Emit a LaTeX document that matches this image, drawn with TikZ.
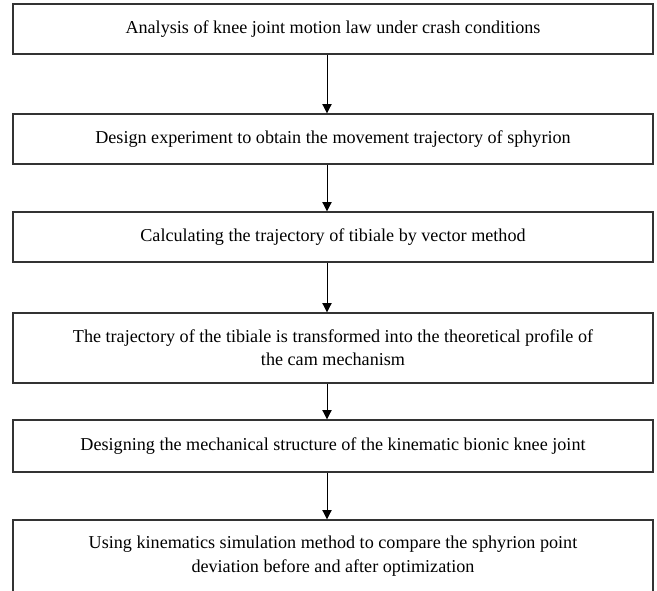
\documentclass[tikz,border=0pt]{standalone}
\usepackage{fontspec}
\setmainfont{Liberation Serif}
\usetikzlibrary{arrows.meta}

\begin{document}
\begin{tikzpicture}[x=0.75pt, y=-0.75pt,
        stagebox/.style={draw=black!80, line width=1pt, minimum width=480pt,
            minimum height=#1, inner sep=0pt, align=center,
            font=\fontsize{13.6}{17.5}\selectfont},
        flowarrow/.style={-{Triangle[width=7pt, length=7pt]}, line width=0.6pt}]

        % ---------------------------------------------------
        % 0. Page frame (the last box runs off the bottom)
        % ---------------------------------------------------
        \useasboundingbox (0, 0) rectangle (657, 590);
        \clip (0, 0) rectangle (657, 590);

        % ---------------------------------------------------
        % 1. Stages
        % ---------------------------------------------------
        \node[stagebox=37.5pt] (law) at (333, 29)
            {Analysis of knee joint motion law under crash conditions};
        \node[stagebox=37.5pt] (exper) at (333, 139)
            {Design experiment to obtain the movement trajectory of sphyrion};
        \node[stagebox=37.5pt] (tibiale) at (333, 237)
            {Calculating the trajectory of tibiale by vector method};
        \node[stagebox=52.5pt] (profile) at (333, 348)
            {The trajectory of the tibiale is transformed into the theoretical profile of\\
             the cam mechanism};
        \node[stagebox=39pt] (struct) at (333, 446)
            {Designing the mechanical structure of the kinematic bionic knee joint};
        \node[stagebox=54pt] (simul) at (333, 556)
            {Using kinematics simulation method to compare the sphyrion point\\
             deviation before and after optimization};

        % ---------------------------------------------------
        % 2. Arrows (a little left of the box centres)
        % ---------------------------------------------------
        \draw[flowarrow] ([xshift=-4.5pt]law.south) -- ([xshift=-4.5pt]exper.north);
        \draw[flowarrow] ([xshift=-4.5pt]exper.south) -- ([xshift=-4.5pt]tibiale.north);
        \draw[flowarrow] ([xshift=-4.5pt]tibiale.south) -- ([xshift=-4.5pt]profile.north);
        \draw[flowarrow] ([xshift=-4.5pt]profile.south) -- ([xshift=-4.5pt]struct.north);
        \draw[flowarrow] ([xshift=-4.5pt]struct.south) -- ([xshift=-4.5pt]simul.north);

    \end{tikzpicture}
\end{document}
